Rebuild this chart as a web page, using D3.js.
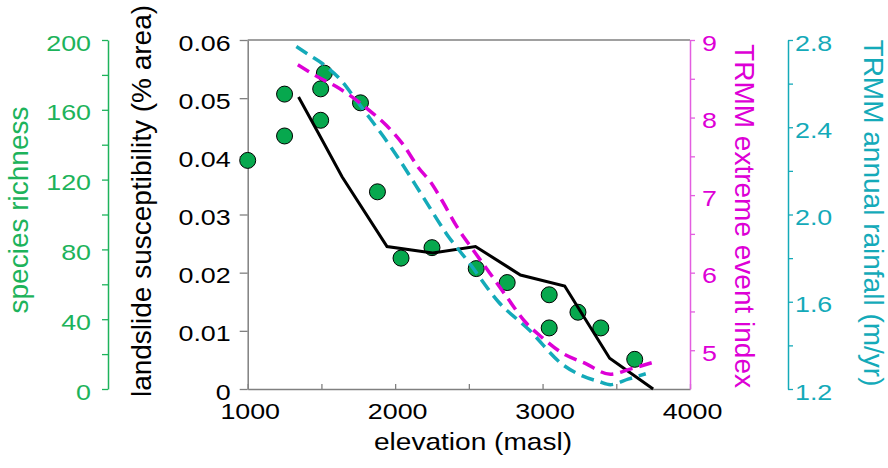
<!DOCTYPE html>
<html>
<head>
<meta charset="utf-8">
<script src="https://cdn.jsdelivr.net/npm/d3@7"></script>
<style>
  body { margin: 0; background: #fff; }
  svg { display: block; font-family: "Liberation Sans", Arial, sans-serif; }
</style>
</head>
<body>
<div id="chart"></div>
<script>
// values
const richnessElev = [1000, 1250, 1250, 1520, 1495, 1495, 1765, 1880, 2040, 2250, 2550, 2760, 3045, 3045, 3240, 3395, 3625];
const richness     = [131, 169, 145, 181, 172, 154, 164, 113, 75, 81, 69, 61, 54, 35, 44, 35, 17];

const landElev  = [1345, 1490, 1640, 1945, 2255, 2545, 2850, 3150, 3455, 3750];
const landslide = [0.0502, 0.0435, 0.0365, 0.0245, 0.0234, 0.0245, 0.0196, 0.0177, 0.0053, 0.0];

const extremeElev  = [1340, 1490, 1600, 1705, 1820, 1940, 2055, 2160, 2240, 2315, 2420, 2530, 2640, 2760, 2880, 3000, 3120, 3290, 3460, 3600, 3760];
const extremeIndex = [8.68, 8.51, 8.40, 8.27, 8.10, 7.90, 7.65, 7.35, 7.17, 6.94, 6.59, 6.29, 6.00, 5.68, 5.37, 5.16, 4.98, 4.83, 4.69, 4.76, 4.85];

const rainElev = [1330, 1420, 1510, 1640, 1730, 1830, 1960, 2030, 2190, 2350, 2500, 2700, 2910, 3140, 3270, 3380, 3460, 3580, 3700];
const rainfall = [2.77, 2.73, 2.69, 2.61, 2.53, 2.44, 2.32, 2.25, 2.08, 1.91, 1.78, 1.60, 1.47, 1.31, 1.26, 1.235, 1.22, 1.245, 1.27];

const elevTicks     = [1000, 1500, 2000, 2500, 3000, 3500, 4000];
const landTicks     = [0, 0.01, 0.02, 0.03, 0.04, 0.05, 0.06];
const richnessTicks = d3.range(0, 201, 20);
const extremeTicks  = d3.range(5, 9.01, 0.5);
const rainTicks     = [1.2, 1.4, 1.6, 1.8, 2.0, 2.2, 2.4, 2.6, 2.8];

const width = 888, height = 468;
const plot = {left: 247.7, right: 690, top: 40, bottom: 389};

const green = '#1db35b', dotGreen = '#07a84e', magenta = '#dd00d6', cyan = '#14aab9', gray = '#808080';
const SX = 1.22;   // horizontal text in the figure is drawn wide

const svg = d3.select('#chart')
  .append('svg')
    .attr('width', width)
    .attr('height', height);

svg.append('rect').attr('width', width).attr('height', height).attr('fill', '#fff');

const x = d3.scaleLinear().domain([1000, 4000]).range([plot.left, plot.right]);
const yLand = d3.scaleLinear().domain([0, 0.06]).range([plot.bottom, plot.top]);
const yRich = d3.scaleLinear().domain([0, 200]).range([plot.bottom, plot.top]);
const yExt = d3.scaleLinear().domain([4.5, 9]).range([plot.bottom, plot.top]);
const yRain = d3.scaleLinear().domain([1.2, 2.8]).range([plot.bottom, plot.top]);

// place a tick label with the figure's wide look
const placeLabels = (g, dx, dy, anchor, fmt, color) => {
  g.selectAll('.tick text')
    .text(fmt)
    .attr('x', 0).attr('y', 0).attr('dy', null)
    .attr('text-anchor', anchor)
    .attr('transform', `translate(${dx},${dy}) scale(${SX},1)`)
    .attr('fill', color)
    .style('font-size', '22px');
};

const styleAxis = (g, color) => {
  g.select('.domain').attr('stroke', color).attr('stroke-width', 1.5);
  g.selectAll('.tick line').attr('stroke', color).attr('stroke-width', 1.3);
};

// top frame line
svg.append('line')
  .attr('x1', plot.left).attr('x2', plot.right)
  .attr('y1', plot.top).attr('y2', plot.top)
  .attr('stroke', gray).attr('stroke-width', 1.5);

// bottom axis, ticks pointing in
const xAxis = svg.append('g')
  .attr('transform', `translate(0,${plot.bottom})`)
  .call(d3.axisBottom(x).tickValues(elevTicks).tickSize(-5).tickSizeOuter(0));
styleAxis(xAxis, gray);
placeLabels(xAxis, 2, 30, 'middle', d => d % 1000 === 0 ? d : '', '#000');

// landslide axis
const landAxis = svg.append('g')
  .attr('transform', `translate(${plot.left},0)`)
  .call(d3.axisLeft(yLand).tickValues(landTicks).tickSize(8).tickSizeOuter(0));
styleAxis(landAxis, gray);
placeLabels(landAxis, -17, 10, 'end', d => d === 0 ? '0' : d3.format('.2f')(d), '#000');

// species richness axis
const richAxis = svg.append('g')
  .attr('transform', 'translate(108,0)')
  .call(d3.axisLeft(yRich).tickValues(richnessTicks).tickSize(6).tickSizeOuter(0));
styleAxis(richAxis, green);
placeLabels(richAxis, -17, 10, 'end', d => d % 40 === 0 ? d : '', green);

// extreme event axis
const extAxis = svg.append('g')
  .attr('transform', `translate(${plot.right},0)`)
  .call(d3.axisRight(yExt).tickValues(extremeTicks).tickSize(5).tickSizeOuter(0));
styleAxis(extAxis, magenta);
extAxis.select('.domain').attr('stroke', '#e35ee0');
extAxis.selectAll('.tick line').attr('stroke', '#e35ee0');
placeLabels(extAxis, 12, 10, 'start', d => Number.isInteger(d) ? d : '', magenta);

// rainfall axis
const rainAxis = svg.append('g')
  .attr('transform', 'translate(788,0)')
  .call(d3.axisRight(yRain).tickValues(rainTicks).tickSize(5).tickSizeOuter(0));
styleAxis(rainAxis, cyan);
placeLabels(rainAxis, 7, 10, 'start', d => Math.round(d * 10) % 4 === 0 ? d3.format('.1f')(d) : '', cyan);

// axis titles
const title = (tx, ty, angle, label, color, size = 28, sx = 1) => svg.append('text')
  .attr('transform', `translate(${tx},${ty}) rotate(${angle}) scale(${sx},1)`)
  .attr('text-anchor', 'middle')
  .attr('fill', color)
  .style('font-size', `${size}px`)
  .text(label);

title(473, 450, 0, 'elevation (masl)', '#000', 24, 1.17);
title(151, 201, -90, 'landslide susceptibility (% area)', '#000');
title(28, 210, -90, 'species richness', green);
title(735, 216, 90, 'TRMM extreme event index', magenta);
title(864, 213, 90, 'TRMM annual rainfall (m/yr)', cyan);

// species richness dots
svg.append('g')
  .selectAll('circle')
  .data(richness)
  .join('circle')
    .attr('cx', (d, i) => x(richnessElev[i]))
    .attr('cy', d => yRich(d))
    .attr('r', 8)
    .attr('fill', dotGreen)
    .attr('stroke', '#000')
    .attr('stroke-width', 1);

// landslide line
const landLine = d3.line()
  .x((d, i) => x(landElev[i]))
  .y(d => yLand(d));

svg.append('path')
  .attr('d', landLine(landslide))
  .attr('fill', 'none')
  .attr('stroke', '#000')
  .attr('stroke-width', 3);

// rainfall dashed line
const rainLine = d3.line()
  .x((d, i) => x(rainElev[i]))
  .y(d => yRain(d))
  .curve(d3.curveMonotoneX);

svg.append('path')
  .attr('d', rainLine(rainfall))
  .attr('fill', 'none')
  .attr('stroke', cyan)
  .attr('stroke-width', 3.5)
  .attr('stroke-dasharray', '13,7');

// extreme event dashed line
const extLine = d3.line()
  .x((d, i) => x(extremeElev[i]))
  .y(d => yExt(d))
  .curve(d3.curveMonotoneX);

svg.append('path')
  .attr('d', extLine(extremeIndex))
  .attr('fill', 'none')
  .attr('stroke', magenta)
  .attr('stroke-width', 3.5)
  .attr('stroke-dasharray', '13,7');
</script>
</body>
</html>
